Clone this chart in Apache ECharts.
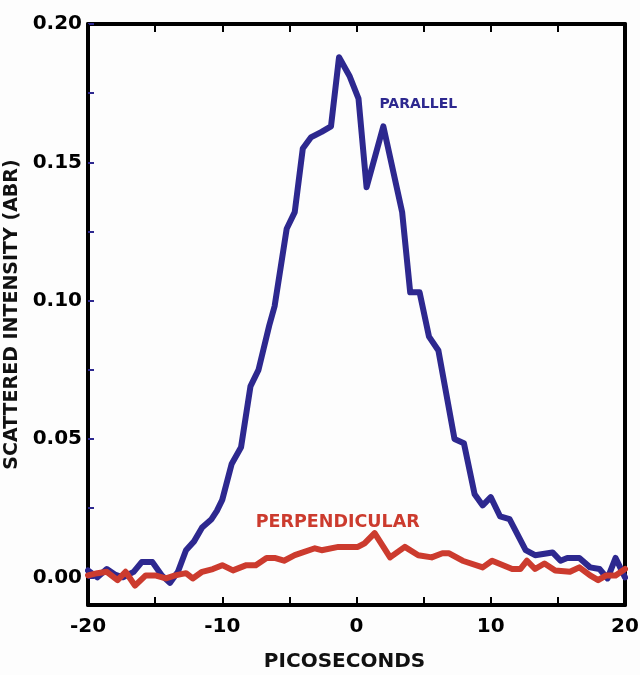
<!DOCTYPE html>
<html>
<head>
<meta charset="utf-8">
<script src="https://cdn.jsdelivr.net/npm/echarts@6/dist/echarts.min.js"></script>
<style>
  html, body { margin: 0; padding: 0; background: #fdfdfd; }
  #chart { width: 640px; height: 675px; }
</style>
</head>
<body>
<div id="chart"></div>
<script>
// picoseconds / scattered intensity
const parallelPs = [-20, -19.3, -18.6, -18.0, -17.4, -16.6, -16.0, -15.2, -14.5, -13.9, -13.3, -12.7, -12.1, -11.5, -10.8, -10.4, -10.0, -9.3, -8.6, -7.9, -7.3, -6.5, -6.1, -5.2, -4.6, -4.0, -3.4, -2.6, -1.9, -1.3, -0.5, 0.15, 0.75, 2.0, 3.4, 4.0, 4.7, 5.4, 6.1, 7.3, 8.0, 8.8, 9.4, 10.0, 10.7, 11.4, 12.6, 13.3, 14.6, 15.2, 15.7, 16.6, 17.4, 18.1, 18.7, 19.3, 20.0];
const parallelVal = [0.0025, 0.000, 0.003, 0.001, 0.000, 0.002, 0.0055, 0.0055, 0.0007, -0.002, 0.002, 0.0098, 0.013, 0.018, 0.021, 0.024, 0.028, 0.041, 0.047, 0.069, 0.075, 0.091, 0.098, 0.126, 0.132, 0.155, 0.159, 0.161, 0.163, 0.188, 0.181, 0.173, 0.141, 0.163, 0.132, 0.103, 0.103, 0.087, 0.082, 0.050, 0.0485, 0.030, 0.026, 0.029, 0.022, 0.021, 0.0098, 0.008, 0.009, 0.006, 0.007, 0.007, 0.0036, 0.003, -0.0004, 0.007, 0.000];

const perpPs = [-20, -19.3, -18.6, -17.8, -17.2, -16.5, -15.7, -15.0, -14.2, -13.5, -12.7, -12.2, -11.5, -10.7, -10.0, -9.2, -8.2, -7.5, -6.7, -6.1, -5.4, -4.6, -3.1, -2.6, -1.35, -0.6, 0.1, 0.6, 1.35, 2.5, 3.6, 4.6, 5.6, 6.4, 6.9, 7.9, 9.4, 10.1, 11.6, 12.2, 12.7, 13.3, 14.0, 14.8, 15.9, 16.6, 17.4, 18.0, 18.6, 19.3, 20.0];
const perpVal = [0.0007, 0.0015, 0.002, -0.001, 0.002, -0.003, 0.0007, 0.0007, -0.0004, 0.0007, 0.0015, -0.0004, 0.002, 0.003, 0.0044, 0.0025, 0.0044, 0.0044, 0.007, 0.007, 0.006, 0.008, 0.0105, 0.0098, 0.011, 0.011, 0.011, 0.0123, 0.016, 0.0072, 0.011, 0.008, 0.0072, 0.0087, 0.0087, 0.006, 0.0036, 0.006, 0.003, 0.003, 0.006, 0.003, 0.005, 0.0025, 0.002, 0.0036, 0.0007, -0.001, 0.0007, 0.0007, 0.003];

const yLabelVals = [0, 0.05, 0.10, 0.15, 0.20];
const yTickVals = [0, 0.025, 0.05, 0.075, 0.10, 0.125, 0.15, 0.175, 0.20];

const BLUE = '#2d288f';
const RED = '#cc3b2e';
const FONT = 'DejaVu Sans';

const chart = echarts.init(document.getElementById('chart'));

const pairs = (xs, ys) => xs.map((x, i) => [x, ys[i]]);

const option = {
  backgroundColor: '#fdfdfd',
  animation: false,
  grid: { left: 88, right: 15, top: 24, bottom: 70, outerBoundsMode: 'none', containLabel: false },
  xAxis: [
    {
      type: 'value',
      position: 'bottom',
      min: -20, max: 20, interval: 5,
      name: 'PICOSECONDS',
      nameLocation: 'middle',
      nameGap: 47,
      nameTextStyle: { fontFamily: FONT, fontWeight: 'bold', fontSize: 20, color: '#111', padding: [0, 24, 0, 0] },
      axisLine: { onZero: false, lineStyle: { color: '#000', width: 4 } },
      axisTick: { inside: true, length: 8, lineStyle: { color: '#000', width: 2 } },
      axisLabel: {
        margin: 12,
        fontFamily: FONT, fontWeight: 'bold', fontSize: 20, color: '#000',
        formatter: v => (v % 10 === 0 ? String(v) : '')
      },
      splitLine: { show: false }
    },
    {
      type: 'value',
      position: 'top',
      min: -20, max: 20, interval: 5,
      axisLine: { onZero: false, lineStyle: { color: '#000', width: 4 } },
      axisTick: { inside: true, length: 8, lineStyle: { color: '#000', width: 2 } },
      axisLabel: { show: false },
      splitLine: { show: false }
    }
  ],
  yAxis: [
    {
      type: 'value',
      position: 'left',
      min: -0.01, max: 0.20,
      name: 'SCATTERED INTENSITY (ABR)',
      nameLocation: 'middle',
      nameGap: 60,
      nameTextStyle: { fontFamily: FONT, fontWeight: 'bold', fontSize: 19, color: '#111' },
      axisLine: { onZero: false, lineStyle: { color: '#000', width: 4 } },
      axisTick: { inside: true, length: 6, customValues: yTickVals, lineStyle: { color: BLUE, width: 2 } },
      axisLabel: {
        margin: 6,
        customValues: yLabelVals,
        fontFamily: FONT, fontWeight: 'bold', fontSize: 20, color: '#000',
        formatter: v => v.toFixed(2)
      },
      splitLine: { show: false }
    },
    {
      type: 'value',
      position: 'right',
      min: -0.01, max: 0.20,
      axisLine: { onZero: false, lineStyle: { color: '#000', width: 4 } },
      axisTick: { show: false },
      axisLabel: { show: false },
      splitLine: { show: false }
    }
  ],
  series: [
    {
      name: 'PARALLEL',
      type: 'line',
      data: pairs(parallelPs, parallelVal),
      showSymbol: false,
      lineStyle: { color: BLUE, width: 6, join: 'round', cap: 'round' },
      markPoint: {
        symbol: 'circle', symbolSize: 0,
        label: { show: true, position: 'inside', formatter: 'PARALLEL', color: BLUE, fontFamily: FONT, fontWeight: 'bold', fontSize: 14 },
        data: [{ coord: [4.6, 0.1710] }]
      }
    },
    {
      name: 'PERPENDICULAR',
      type: 'line',
      data: pairs(perpPs, perpVal),
      showSymbol: false,
      lineStyle: { color: RED, width: 6, join: 'round', cap: 'round' },
      markPoint: {
        symbol: 'circle', symbolSize: 0,
        label: { show: true, position: 'inside', formatter: 'PERPENDICULAR', color: RED, fontFamily: FONT, fontWeight: 'bold', fontSize: 17.5 },
        data: [{ coord: [-1.4, 0.0198] }]
      }
    }
  ]
};

chart.setOption(option);
</script>
</body>
</html>
